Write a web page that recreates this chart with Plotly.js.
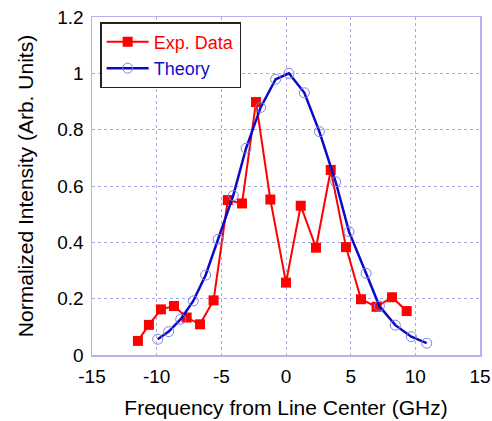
<!DOCTYPE html>
<html>
<head>
<meta charset="utf-8">
<script src="https://cdn.plot.ly/plotly-3.0.1.min.js"></script>
<style>html,body{margin:0;padding:0;background:#fff;}#chart{width:492px;height:421px;}</style>
</head>
<body>
<div id="chart"></div>
<script>
// Experimental data (red squares)
var expX = [-11.45, -10.6, -9.67, -8.66, -7.68, -6.65, -5.6, -4.5, -3.4, -2.32, -1.21, 0, 1.14, 2.32, 3.46, 4.64, 5.8, 7.0, 8.2, 9.33];
var expY = [0.05, 0.107, 0.162, 0.174, 0.133, 0.109, 0.194, 0.55, 0.538, 0.898, 0.552, 0.257, 0.53, 0.381, 0.657, 0.383, 0.198, 0.171, 0.205, 0.156];
// Theory (blue line, open circles)
var thX = [-9.92, -9.07, -8.14, -7.17, -6.21, -5.24, -4.08, -3.09, -1.96, -0.8, 0.23, 1.42, 2.58, 3.84, 4.87, 6.19, 7.22, 8.45, 9.69, 10.88];
var thY = [0.056, 0.083, 0.127, 0.192, 0.284, 0.411, 0.566, 0.734, 0.879, 0.979, 1.0, 0.931, 0.793, 0.615, 0.438, 0.29, 0.174, 0.106, 0.065, 0.042];
var seriesNames = ["Exp. Data", "Theory"];
var xTicks = [-15, -10, -5, 0, 5, 10, 15];
var yTicks = [0, 0.2, 0.4, 0.6, 0.8, 1, 1.2];
var yTickText = ["0", "0.2", "0.4", "0.6", "0.8", "1", "1.2"];

var font = "Liberation Sans, Arial, Helvetica, sans-serif";
var traces = [
  {
    x: expX, y: expY, type: "scatter", mode: "lines+markers",
    name: '<span style="color:#ff0000">' + seriesNames[0] + '</span>',
    line: {color: "#ff0000", width: 2},
    marker: {symbol: "square", size: 10, color: "#ff0000"}
  },
  {
    x: thX, y: thY, type: "scatter", mode: "lines+markers",
    name: '<span style="color:#1010cc">' + seriesNames[1] + '</span>',
    line: {color: "#0a0ac8", width: 2.5},
    marker: {symbol: "circle-open", size: 10, color: "#8080e0", line: {width: 1, color: "#8080e0"}}
  }
];
var gridC = "#a8a8e4";
var layout = {
  width: 492, height: 421,
  margin: {l: 92, r: 12, t: 17, b: 66},
  paper_bgcolor: "#ffffff", plot_bgcolor: "#ffffff",
  font: {family: font, size: 19, color: "#000"},
  showlegend: true,
  legend: {
    x: 0.021, y: 0.985, xanchor: "left", yanchor: "top",
    bgcolor: "#ffffff", bordercolor: "#222222", borderwidth: 1.5,
    font: {family: font, size: 18}, tracegroupgap: 0, itemwidth: 42
  },
  xaxis: {
    range: [-15, 15], tickvals: xTicks, ticktext: xTicks.map(String),
    showgrid: true, gridcolor: gridC, griddash: "dot", gridwidth: 1,
    showline: true, linecolor: "#b4b4ec", linewidth: 1.5, mirror: true,
    zeroline: false, ticks: "", tickfont: {family: font, size: 19},
    ticklabelstandoff: 4,
    title: {text: "Frequency from Line Center (GHz)", font: {family: font, size: 21}, standoff: 14},
    automargin: false
  },
  yaxis: {
    range: [0, 1.2], tickvals: yTicks, ticktext: yTickText,
    showgrid: true, gridcolor: gridC, griddash: "dot", gridwidth: 1,
    showline: true, linecolor: "#b4b4ec", linewidth: 1.5, mirror: true,
    zeroline: false, ticks: "", tickfont: {family: font, size: 19},
    ticklabelstandoff: 3,
    title: {text: "Normalized Intensity (Arb. Units)", font: {family: font, size: 21}, standoff: 18},
    automargin: false
  }
};
Plotly.newPlot("chart", traces, layout, {displayModeBar: false, staticPlot: true});
</script>
</body>
</html>
